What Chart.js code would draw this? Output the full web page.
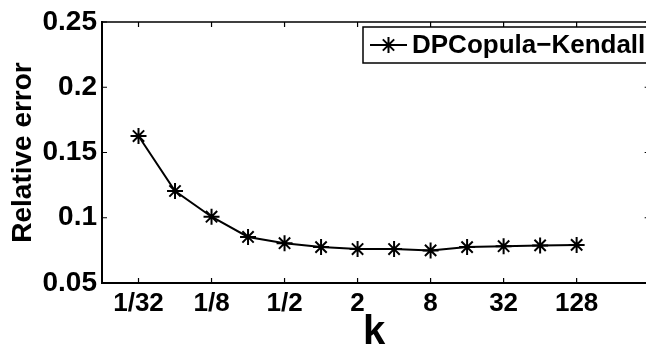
<!DOCTYPE html>
<html>
<head>
<meta charset="utf-8">
<script src="https://cdn.jsdelivr.net/npm/chart.js"></script>
<style>
  html, body { margin: 0; padding: 0; background: #fff; overflow: hidden; }
  #wrap { width: 646px; height: 347px; }
</style>
</head>
<body>
<div id="wrap"><canvas id="chart" width="646" height="347"></canvas></div>
<script>
// k values are plotted on a log2 axis: exponent -5 means k = 1/32
const kExponents = [-5, -4, -3, -2, -1, 0, 1, 2, 3, 4, 5, 6, 7];
const relError = [0.1626, 0.1205, 0.1008, 0.0853, 0.0805, 0.0775, 0.0760, 0.0760, 0.0750, 0.0775, 0.0782, 0.0788, 0.0792];
const xTickExps = [-5, -3, -1, 1, 3, 5, 7];
const xTickLabels = ['1/32', '1/8', '1/2', '2', '8', '32', '128'];
const yTicks = [0.05, 0.1, 0.15, 0.2, 0.25];
const seriesName = 'DPCopula\u2212Kendall';

const FONT = '"Liberation Sans", Arial, Helvetica, sans-serif';

// matlab style: ticks pointing inward on all four sides, plus top/right frame
// (the axes box runs to k = 512, just past the right edge of the window)
const frameTicks = {
    id: 'frameTicks',
    afterDraw(chart) {
        const ctx = chart.ctx;
        const a = chart.chartArea;
        const xs = chart.scales.x, ys = chart.scales.y;
        const right = xs.getPixelForValue(9);
        const len = 5;
        ctx.save();
        ctx.strokeStyle = '#000';
        ctx.lineWidth = 1.2;
        ctx.beginPath();
        xTickExps.forEach(v => {
            const px = xs.getPixelForValue(v);
            ctx.moveTo(px, a.bottom); ctx.lineTo(px, a.bottom - len);
            ctx.moveTo(px, a.top); ctx.lineTo(px, a.top + len);
        });
        yTicks.forEach(v => {
            const py = ys.getPixelForValue(v);
            ctx.moveTo(a.left, py); ctx.lineTo(a.left + len, py);
            ctx.moveTo(right, py); ctx.lineTo(right - len, py);
        });
        ctx.stroke();
        ctx.lineWidth = 1.5;
        ctx.beginPath();
        ctx.moveTo(a.left, a.top); ctx.lineTo(right, a.top); ctx.lineTo(right, a.bottom);
        ctx.stroke();
        ctx.restore();
    }
};

const boxLegend = {
    id: 'boxLegend',
    afterDraw(chart) {
        const ctx = chart.ctx;
        const ds = chart.data.datasets[0];
        ctx.save();
        ctx.fillStyle = '#fff';
        ctx.fillRect(363, 27, 290, 36);
        ctx.strokeStyle = '#000';
        ctx.lineWidth = 1.5;
        ctx.strokeRect(363, 27, 290, 36);
        ctx.lineWidth = 2;
        ctx.beginPath();
        ctx.moveTo(370, 45); ctx.lineTo(407, 45);
        ctx.stroke();
        Chart.helpers.drawPoint(ctx, { pointStyle: 'star', radius: ds.pointRadius, borderWidth: ds.pointBorderWidth, rotation: 0 }, 388.5, 45);
        ctx.fillStyle = '#000';
        ctx.font = 'bold 26px ' + FONT;
        ctx.textBaseline = 'middle';
        ctx.fillText(ds.label, 412, 46);
        ctx.restore();
    }
};

new Chart(document.getElementById('chart'), {
    type: 'line',
    data: {
        datasets: [{
            label: seriesName,
            data: kExponents.map((e, i) => ({ x: e, y: relError[i] })),
            borderColor: '#000',
            backgroundColor: '#000',
            borderWidth: 2,
            pointStyle: 'star',
            pointRadius: 8,
            pointBorderWidth: 2,
            pointBorderColor: '#000',
            tension: 0
        }]
    },
    options: {
        responsive: false,
        animation: false,
        layout: { autoPadding: false, padding: { top: 22, right: 0, left: 0, bottom: 0 } },
        plugins: { legend: { display: false }, tooltip: { enabled: false } },
        scales: {
            x: {
                type: 'linear',
                min: -6,
                max: 8.9,
                afterBuildTicks: s => { s.ticks = xTickExps.map(v => ({ value: v })); },
                afterFit: s => { s.height = 64; s.paddingLeft = 0; s.paddingRight = 0; },
                grid: { display: false, drawTicks: false, tickLength: 0 },
                border: { display: true, color: '#000', width: 2 },
                ticks: {
                    autoSkip: false,
                    maxRotation: 0,
                    padding: 5,
                    color: '#000',
                    font: { family: FONT, size: 26, weight: 'bold' },
                    callback: v => xTickLabels[xTickExps.indexOf(v)]
                },
                title: {
                    display: true,
                    text: 'k',
                    color: '#000',
                    padding: { top: 0, bottom: 0 },
                    font: { family: FONT, size: 40, weight: 'bold', lineHeight: 0.7 }
                }
            },
            y: {
                min: 0.05,
                max: 0.25,
                afterBuildTicks: s => { s.ticks = yTicks.map(v => ({ value: v })); },
                afterFit: s => { s.width = 102; s.paddingTop = 0; s.paddingBottom = 0; },
                grid: { display: false, drawTicks: false, tickLength: 0 },
                border: { display: true, color: '#000', width: 2 },
                ticks: {
                    padding: 5,
                    color: '#000',
                    font: { family: FONT, size: 28, weight: 'bold' },
                    callback: v => String(+v.toFixed(2))
                },
                title: {
                    display: true,
                    text: 'Relative error',
                    color: '#000',
                    padding: { top: 6, bottom: 0 },
                    font: { family: FONT, size: 28, weight: 'bold' }
                }
            }
        }
    },
    plugins: [frameTicks, boxLegend]
});
</script>
</body>
</html>
